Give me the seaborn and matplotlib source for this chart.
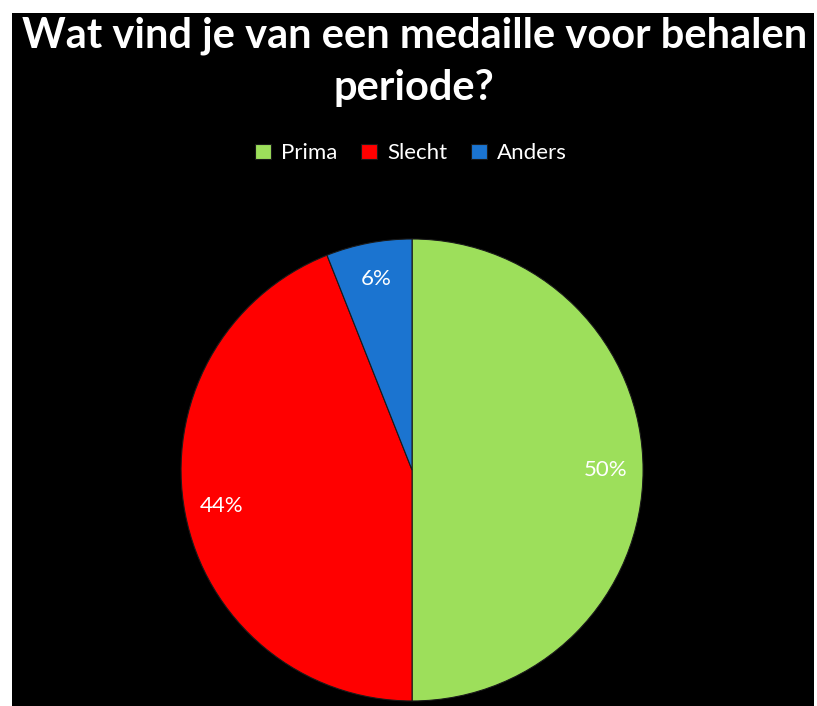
import matplotlib
matplotlib.use("Agg")
import matplotlib.pyplot as plt
import seaborn as sns
from matplotlib.patches import Rectangle

# Gegevens
categorieen = ["Prima", "Slecht", "Anders"]
percentages = [50, 44, 6]
kleuren = ["#9ddf5b", "#ff0000", "#1b74d0"]
titel = "Wat vind je van een medaille voor behalen\nperiode?"

sns.set_theme(style="dark")
plt.rcParams["font.family"] = ["Lato", "DejaVu Sans"]

fig = plt.figure(figsize=(8.17, 7.06), dpi=100, facecolor="white")
# zwarte achtergrond met witte rand links/boven
fig.patches.append(Rectangle((12 / 817, 0), 802 / 817, 693 / 706,
                             transform=fig.transFigure, facecolor="black",
                             edgecolor="none", zorder=-10))

ax = fig.add_axes([0.2216, 0.0071, 0.5655, 0.6544])
ax.set_facecolor("none")
ax.set_zorder(1)

wedges, texts, autotexts = ax.pie(
    percentages, colors=kleuren, startangle=90, counterclock=False,
    autopct="%d%%", pctdistance=0.84, radius=1,
    wedgeprops=dict(edgecolor="#1a1a1a", linewidth=0.8),
    textprops=dict(color="white", fontsize=16),
)
ax.set_xlim(-1, 1)
ax.set_ylim(-1, 1)
ax.set_aspect("equal")
ax.axis("off")

fig.text(0.507, 0.977, titel, ha="center", va="top", color="white",
         fontsize=30, fontweight="bold", linespacing=1.45, zorder=2)

fig.legend(wedges, categorieen, loc="center", bbox_to_anchor=(0.503, 0.783),
           ncol=3, frameon=False, fontsize=16, labelcolor="white",
           handlelength=0.7, handleheight=0.7, handletextpad=0.45,
           columnspacing=1.1)

fig.savefig("out.png", dpi=100, facecolor=fig.get_facecolor())
